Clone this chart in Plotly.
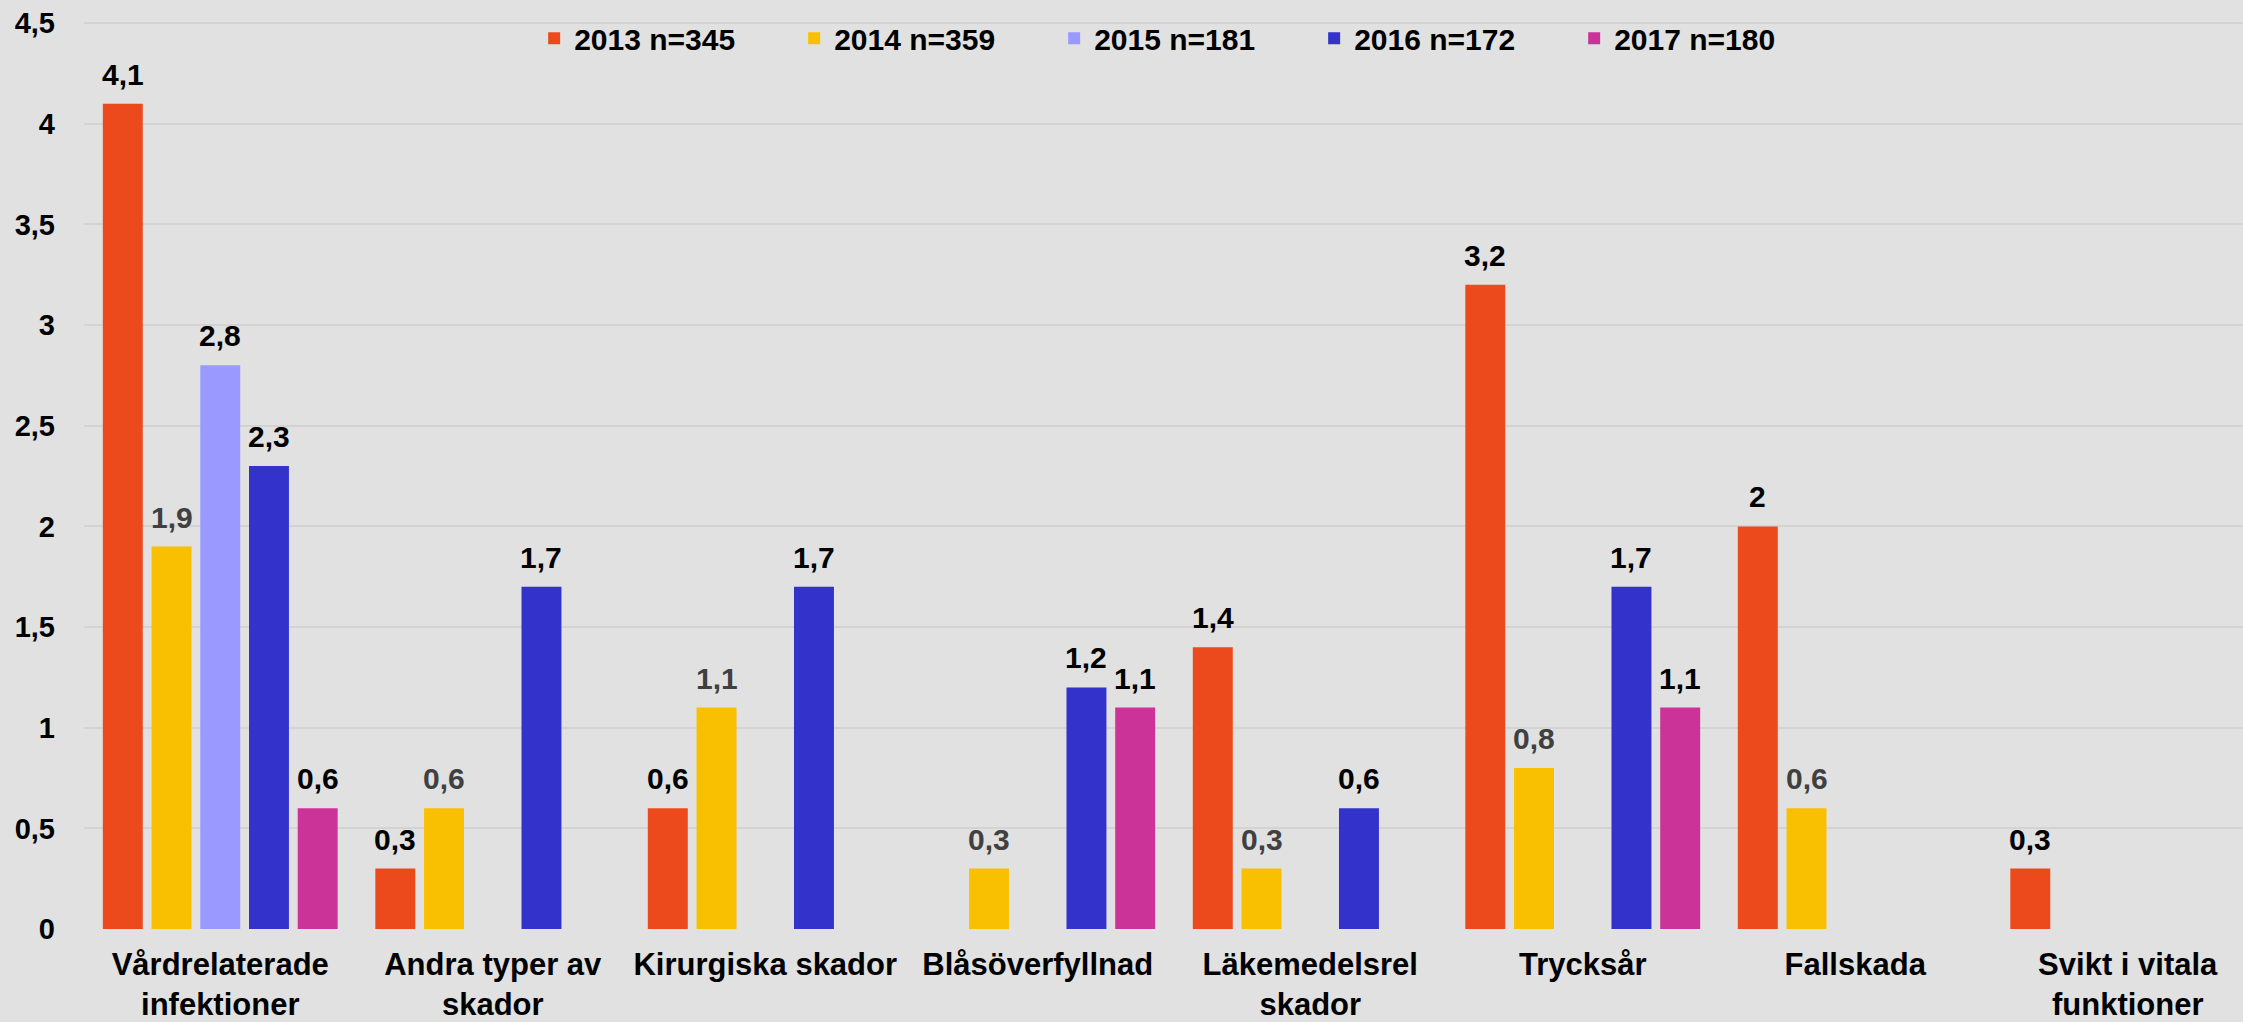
import plotly.graph_objects as go

categories = ["Vårdrelaterade<br>infektioner", "Andra typer av<br>skador", "Kirurgiska skador",
              "Blåsöverfyllnad", "Läkemedelsrel<br>skador", "Trycksår", "Fallskada",
              "Svikt i vitala<br>funktioner"]

series_names = ["2013 n=345", "2014 n=359", "2015 n=181", "2016 n=172", "2017 n=180"]
v2013 = [4.1, 0.3, 0.6, None, 1.4, 3.2, 2, 0.3]
v2014 = [1.9, 0.6, 1.1, 0.3, 0.3, 0.8, 0.6, None]
v2015 = [2.8, None, None, None, None, None, None, None]
v2016 = [2.3, 1.7, 1.7, 1.2, 0.6, 1.7, None, None]
v2017 = [0.6, None, None, 1.1, None, 1.1, None, None]

series_values = [v2013, v2014, v2015, v2016, v2017]
colors = ["#EC4A1C", "#F8C000", "#9999FF", "#3333CC", "#CC3399"]
label_colors = ["#000000", "#404040", "#000000", "#000000", "#000000"]

FONT = "Liberation Sans, Arial, sans-serif"
BARGAP = 0.106
NSER = len(series_names)


def fmt(v):
    return ("%g" % v).replace(".", ",")


fig = go.Figure()
annotations = []
for i, (name, vals, col, lc) in enumerate(zip(series_names, series_values, colors, label_colors)):
    fig.add_trace(go.Bar(
        x=categories, y=vals, name=name,
        marker=dict(color=col, line=dict(width=0)),
        hoverinfo="x+y+name",
    ))
    offset = (i - (NSER - 1) / 2) * (1 - BARGAP) / NSER
    for ci, v in enumerate(vals):
        if v is None:
            continue
        annotations.append(dict(
            x=ci + offset, y=v, xref="x", yref="y", text=fmt(v), showarrow=False,
            xanchor="center", yanchor="bottom", yshift=11,
            font=dict(family=FONT, size=30, color=lc, weight="bold"),
        ))

fig.update_layout(
    width=2243, height=1022,
    paper_bgcolor="#E1E1E1", plot_bgcolor="#E1E1E1",
    margin=dict(l=84, r=0, t=3, b=83),
    barmode="group", bargap=BARGAP, bargroupgap=0.18,
    separators=",.",
    showlegend=True,
    legend=dict(orientation="h", x=0.2085, xanchor="left", y=0.962, yanchor="middle",
                bgcolor="rgba(0,0,0,0)",
                font=dict(family=FONT, size=30, color="#000000", weight="bold"),
                entrywidth=215, entrywidthmode="pixels", itemwidth=30),
    xaxis=dict(range=[-0.5, 7.423], showgrid=False, zeroline=False, showline=False,
               ticks="", ticklabelstandoff=14,
               tickfont=dict(family=FONT, size=31, color="#000000", weight="bold")),
    yaxis=dict(range=[0, 4.6], tickvals=[0, 0.5, 1, 1.5, 2, 2.5, 3, 3.5, 4, 4.5],
               showgrid=True, gridcolor="#D3D3D3", gridwidth=2, zeroline=False,
               showline=False, ticks="", ticklabelstandoff=28,
               tickfont=dict(family=FONT, size=29, color="#000000", weight="bold")),
    annotations=annotations,
)

fig.write_html("out.html", config={"displayModeBar": False},
               post_script="document.body.style.margin='0';")
